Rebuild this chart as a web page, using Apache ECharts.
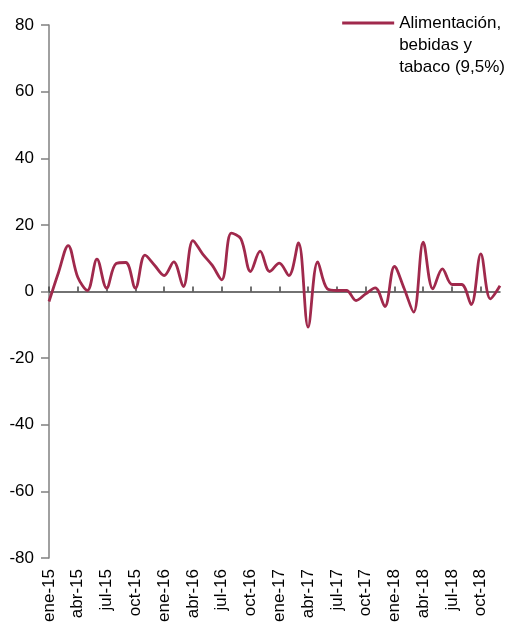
<!DOCTYPE html>
<html><head><meta charset="utf-8">
<script src="https://cdn.jsdelivr.net/npm/echarts@6/dist/echarts.min.js"></script>
<style>html,body{margin:0;padding:0;background:#fff}#c{width:512px;height:628px}</style>
</head><body><div id="c"></div>
<script>
const months = ['ene','feb','mar','abr','may','jun','jul','ago','sep','oct','nov','dic'];
const years = ['15','16','17','18'];
const categories = [];
years.forEach(y => months.forEach(m => categories.push(m + '-' + y)));
const seriesName = 'Alimentación,\nbebidas y\ntabaco (9,5%)';
const values = [
  -3, 5.8, 13.8, 4.3, 0.3, 9.7, 1, 8.4, 8.7, 1, 10.9, 7.9,
  4.8, 8.9, 1.5, 15.3, 11.3, 7.9, 3.5, 17.5, 15.8, 6, 12.1, 6,
  8.5, 4.8, 14.6, -10.7, 8.9, 0.8, 0.3, 0.3, -2.7, -0.7, 1.1, -4.5,
  7.5, 1, -6.2, 14.8, 0.8, 6.8, 2.1, 2.1, -3.9, 11.3, -2.2, 1.7
];
const yMin = -80, yMax = 80, yStep = 20;

const chart = echarts.init(document.getElementById('c'), null, {renderer: 'canvas'});
const font = 'Liberation Sans, Arial, sans-serif';
chart.setOption({
  animation: false,
  backgroundColor: '#fff',
  grid: {left: 49, right: 12, top: 25, bottom: 70, containLabel: false},
  legend: {
    right: 7, top: -32, padding: 0,
    itemWidth: 52, itemHeight: 3, itemGap: 0,
    icon: 'rect',
    formatter: name => '\n\n' + name,
    textStyle: {fontFamily: font, fontSize: 17, color: '#000', lineHeight: 22},
    data: [seriesName]
  },
  xAxis: [{
    type: 'category', data: categories, boundaryGap: false,
    axisLine: {onZero: true, lineStyle: {color: '#444', width: 1.5}},
    axisTick: {show: true, inside: true, interval: 2, length: 5, lineStyle: {color: '#444', width: 1.5}},
    axisLabel: {show: false}, splitLine: {show: false}
  }, {
    type: 'category', data: categories, boundaryGap: false, position: 'bottom',
    axisLine: {show: false, onZero: false}, axisTick: {show: false},
    axisLabel: {show: true, interval: 2, rotate: 90, margin: 11, fontFamily: font, fontSize: 17, color: '#000'},
    splitLine: {show: false}
  }],
  yAxis: {
    type: 'value', min: yMin, max: yMax, interval: yStep,
    axisLine: {show: true, lineStyle: {color: '#808080', width: 1.5}},
    axisTick: {show: true, length: 8, lineStyle: {color: '#808080', width: 1.5}},
    axisLabel: {fontFamily: font, fontSize: 17, color: '#000', margin: 15},
    splitLine: {show: false}
  },
  series: [{
    name: seriesName, type: 'line', data: values, xAxisIndex: 0,
    smooth: 0.35, showSymbol: false, symbol: 'none',
    lineStyle: {color: '#A0294C', width: 2.8},
    itemStyle: {color: '#A0294C'}
  }]
});
</script></body></html>
